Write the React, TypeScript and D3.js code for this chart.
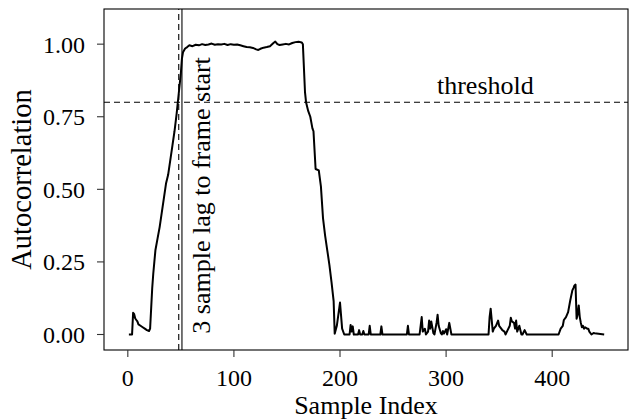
import React from "react";
import * as d3 from "d3";

const sampleIndex = [
  1, 4, 5, 6, 7, 8, 9, 10, 12, 14, 16, 18, 20, 21, 22, 23, 24, 25, 26, 28, 30, 32, 34, 36, 38, 40, 42, 44, 46, 48, 50, 51, 52,
  54, 56, 58, 61, 64, 67, 70, 73, 76, 79, 82, 85, 88, 91, 94, 97, 100, 103, 106, 109, 112, 115, 118, 121, 123, 125, 128, 131,
  134, 137, 139, 141, 143, 146, 149, 152, 155, 158, 161, 164, 165,
  167, 168, 170, 172, 174, 175, 177, 180, 182, 184, 186, 188, 190, 192, 194, 195, 197, 200, 202, 204,
  209, 210, 211, 212, 213, 217, 218, 219, 221, 222, 223, 227, 228, 229, 238, 239, 240, 263, 264, 265, 275, 277, 278, 280, 281,
  283, 284, 285, 286, 288, 289, 291, 292, 293, 295, 296, 297, 298, 300, 301, 303, 304, 305,
  340, 341, 342, 344, 345, 347, 349, 350, 352, 353, 355, 356, 358, 360, 361, 362, 364, 365, 366, 367, 369, 371, 372, 374, 376,
  378, 406, 408, 410, 411, 413, 415, 417, 419, 420, 421, 422, 423, 424, 425, 426, 427, 428, 429, 430, 431, 433, 434, 435, 437,
  439, 440, 449,
];

const autocorr = [
  0.0, 0.0, 0.075, 0.07, 0.055, 0.05, 0.045, 0.035, 0.03, 0.025, 0.02, 0.015, 0.012, 0.02, 0.09, 0.16, 0.21, 0.25, 0.29, 0.33,
  0.37, 0.42, 0.47, 0.52, 0.55, 0.6, 0.65, 0.7, 0.76, 0.83, 0.9, 0.95, 0.972,
  0.985, 0.99, 0.996, 0.993, 0.998, 0.996, 1.0, 0.997, 0.999, 1.002, 0.998, 1.0, 0.999, 1.001, 0.997, 1.0, 0.998, 0.999, 0.996,
  0.993, 0.99, 0.989, 0.987, 0.982, 0.98, 0.984, 0.988, 0.99,
  0.993, 1.003, 1.009, 1.0, 0.997, 0.999, 1.001, 0.999, 1.004, 1.007, 1.008, 1.006, 1.0,
  0.835, 0.8, 0.77, 0.75, 0.71, 0.7, 0.57, 0.565, 0.51, 0.4, 0.34, 0.29, 0.24, 0.18, 0.115, 0.003, 0.03, 0.11, 0.02, 0.0,
  0.0, 0.033, 0.01, 0.028, 0.0, 0.0, 0.015, 0.0, 0.0, 0.012, 0.0, 0.0, 0.03, 0.0, 0.0, 0.028, 0.0, 0.0, 0.03, 0.0, 0.0, 0.06,
  0.01, 0.02, 0.0,
  0.01, 0.048, 0.02, 0.045, 0.005, 0.0, 0.04, 0.068, 0.03, 0.005, 0.0, 0.012, 0.003, 0.018, 0.0, 0.04, 0.02, 0.0,
  0.0, 0.06, 0.089, 0.01, 0.02, 0.03, 0.048, 0.03, 0.02, 0.015, 0.01, 0.0, 0.015, 0.03, 0.058, 0.045, 0.04, 0.02, 0.048, 0.01,
  0.03, 0.0, 0.0, 0.015, 0.0,
  0.0, 0.0, 0.02, 0.03, 0.05, 0.06, 0.077, 0.117, 0.152, 0.16, 0.169, 0.172, 0.054, 0.07, 0.1, 0.06, 0.04, 0.025, 0.03, 0.02,
  0.025, 0.02, 0.02, 0.01, 0.0, 0.005,
  0.004, 0.0, 0.0,
];

const xTicks = [0, 100, 200, 300, 400];
const yTicks = [0, 0.25, 0.5, 0.75, 1.0];
const thresholdValue = 0.8;
const frameStartDetected = 48;
const frameStartTrue = 51;
const xLabel = "Sample Index";
const yLabel = "Autocorrelation";
const thresholdLabel = "threshold";
const lagLabel = "3 sample lag to frame start";

const W = 629;
const H = 420;
const margin = { left: 104, right: 1, top: 9, bottom: 70 };
const FONT = "'Liberation Serif', 'Times New Roman', Times, serif";

export default function App() {
  const x = d3.scaleLinear().domain([-22.45, 471.45]).range([margin.left, W - margin.right]);
  const y = d3.scaleLinear().domain([-0.0534, 1.1211]).range([H - margin.bottom, margin.top]);
  const pts: [number, number][] = sampleIndex.map((s, i) => [s, autocorr[i]]);
  const line = d3
    .line<[number, number]>()
    .x((d) => x(d[0]))
    .y((d) => y(d[1]));

  const x0 = margin.left;
  const x1 = W - margin.right;
  const y0 = H - margin.bottom;
  const y1 = margin.top;

  return (
    <svg
      width={W}
      height={H}
      style={{ position: "absolute", left: 0, top: 0, display: "block", background: "#fff" }}
      fontFamily={FONT}
    >
      <rect x={0} y={0} width={W} height={H} fill="#fff" />
      {/* reference lines */}
      <line x1={x0} x2={x1} y1={y(thresholdValue)} y2={y(thresholdValue)} stroke="#000" strokeWidth={1.1} strokeDasharray="6,4" />
      <line x1={x(frameStartDetected)} x2={x(frameStartDetected)} y1={y0} y2={y1} stroke="#000" strokeWidth={1.1} strokeDasharray="6,4" />
      <line x1={x(frameStartTrue)} x2={x(frameStartTrue)} y1={y0} y2={y1} stroke="#666" strokeWidth={1.8} />
      {/* data */}
      <path d={line(pts) || ""} fill="none" stroke="#000" strokeWidth={2} strokeLinejoin="round" />
      {/* annotations */}
      <text x={x(337)} y={y(0.86)} dy="0.35em" fontSize={26} textAnchor="middle" fill="#000">
        {thresholdLabel}
      </text>
      <text
        transform={`translate(${x(77.5)},${y(0.479)}) rotate(-90)`}
        fontSize={26}
        textAnchor="middle"
        fill="#000"
      >
        {lagLabel}
      </text>
      {/* panel border */}
      <rect x={x0} y={y1} width={x1 - x0} height={y0 - y1} fill="none" stroke="#000" strokeWidth={1.1} />
      {/* x axis */}
      {xTicks.map((t) => (
        <g key={`x${t}`}>
          <line x1={x(t)} x2={x(t)} y1={y0} y2={y0 + 7} stroke="#333" strokeWidth={1.1} />
          <text x={x(t)} y={386} fontSize={24} textAnchor="middle" fill="#000">
            {t}
          </text>
        </g>
      ))}
      {/* y axis */}
      {yTicks.map((t) => (
        <g key={`y${t}`}>
          <line x1={x0 - 7} x2={x0} y1={y(t)} y2={y(t)} stroke="#333" strokeWidth={1.1} />
          <text x={85} y={y(t)} dy="0.35em" fontSize={24} textAnchor="end" fill="#000">
            {t.toFixed(2)}
          </text>
        </g>
      ))}
      <text x={(x0 + x1) / 2} y={414} fontSize={26} textAnchor="middle" fill="#000">
        {xLabel}
      </text>
      <text transform={`translate(31,${(y0 + y1) / 2}) rotate(-90)`} fontSize={28.5} textAnchor="middle" fill="#000">
        {yLabel}
      </text>
    </svg>
  );
}
